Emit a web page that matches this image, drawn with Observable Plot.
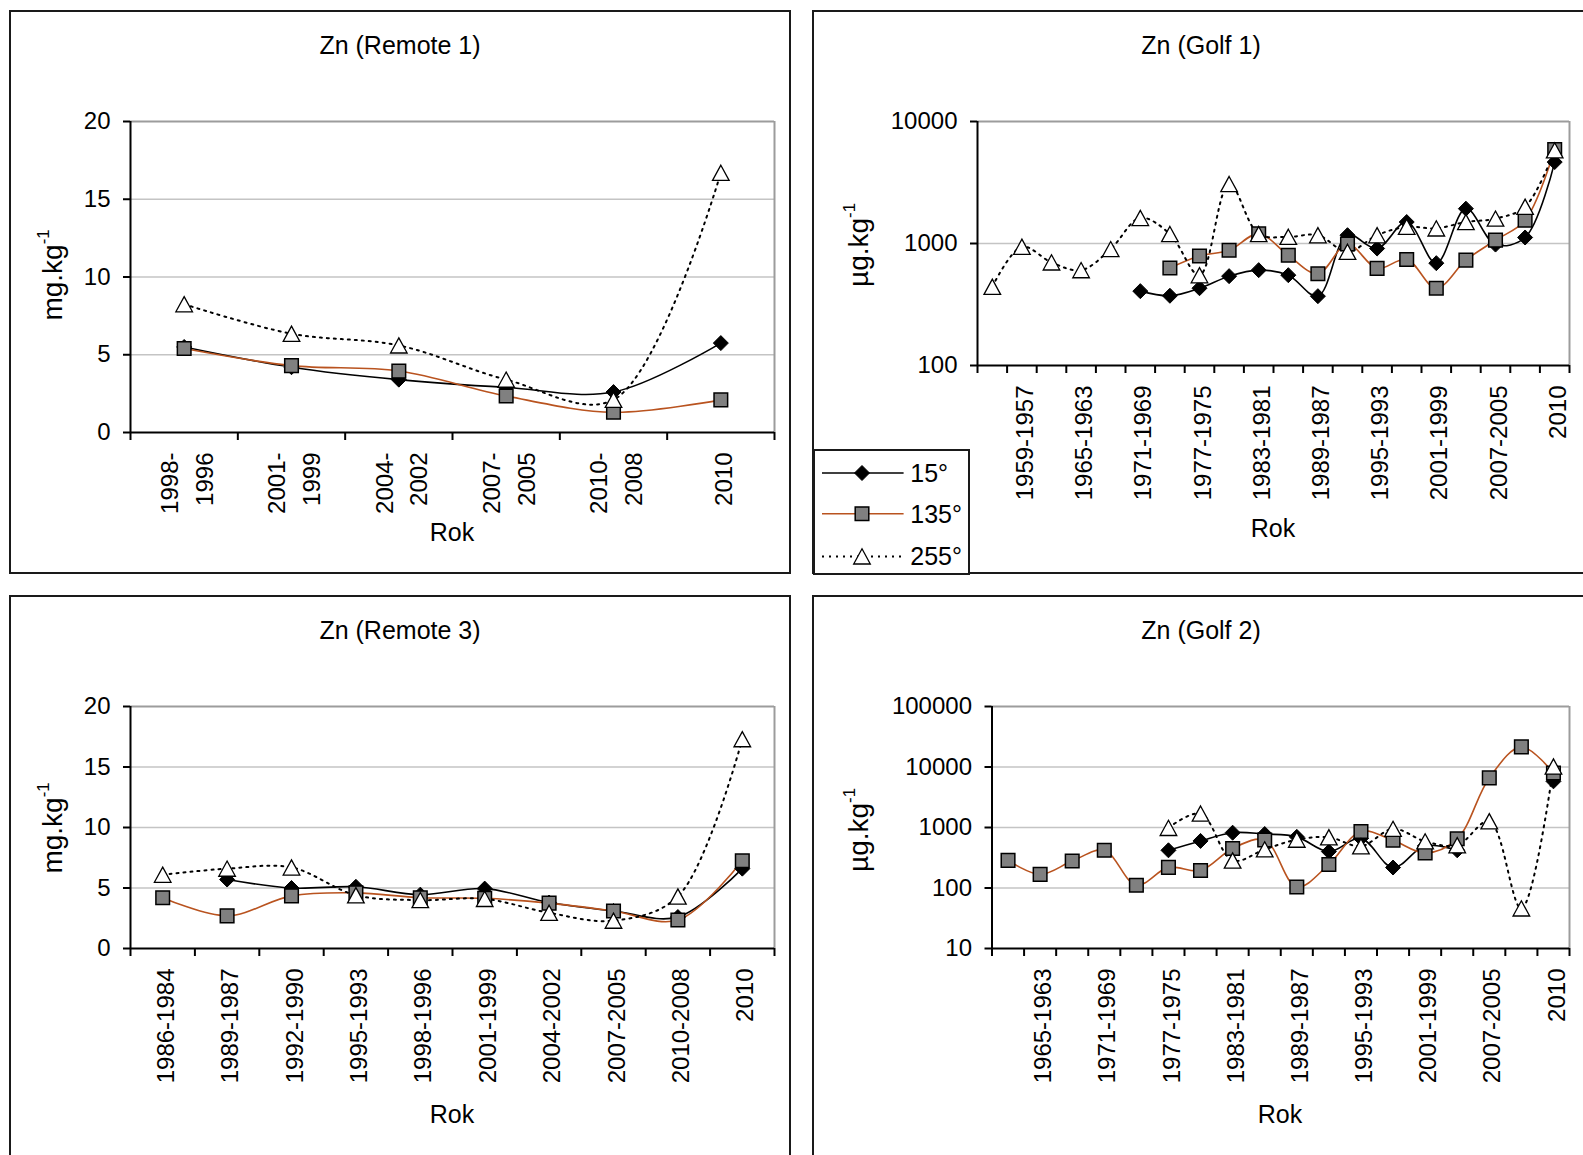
<!DOCTYPE html>
<html><head><meta charset="utf-8">
<script src="https://cdn.jsdelivr.net/npm/d3@7"></script>
<script src="https://cdn.jsdelivr.net/npm/@observablehq/plot@0.6"></script>
<style>
body{margin:0;background:#fff;width:1583px;height:1155px;overflow:hidden;position:relative;font-family:"Liberation Sans",Arial,sans-serif;color:#000}
.panel{position:absolute}
.frame{position:absolute;left:0;top:0;box-sizing:border-box;border:2px solid #1a1a1a}
.panel svg.plot{position:absolute;left:0;top:0;overflow:visible}
.t{position:absolute;transform:translate(-50%,-50%);white-space:nowrap;font-size:25px;line-height:1}
.yl{position:absolute;transform:translate(-50%,-50%) rotate(-90deg);white-space:nowrap;font-size:28px;line-height:1}
.yl sup{font-size:60%;vertical-align:0.8em;line-height:0}
.legend{position:absolute;box-sizing:border-box;border:2px solid #1a1a1a;background:#fff}
</style></head><body>
<script>
// ---------- DATA ----------
const seriesNames = ["15°", "135°", "255°"];

const remote1Cats = ["1998-1996", "2001-1999", "2004-2002", "2007-2005", "2010-2008", "2010"];
const remote1_15  = [5.5, 4.2, 3.4, 2.9, 2.6, 5.75];
const remote1_135 = [5.4, 4.3, 3.95, 2.35, 1.3, 2.1];
const remote1_255 = [8.25, 6.35, 5.6, 3.4, 2.1, 16.7];

const golf1Cats = ["1956-1954", "1959-1957", "1962-1960", "1965-1963", "1968-1966", "1971-1969", "1974-1972",
  "1977-1975", "1980-1978", "1983-1981", "1986-1984", "1989-1987", "1992-1990", "1995-1993", "1998-1996",
  "2001-1999", "2004-2002", "2007-2005", "2010-2008", "2010"];
const golf1_15  = [null, null, null, null, null, 407, 373, 430, 540, 605, 550, 370, 1170, 910, 1500, 690, 1930, 980, 1120, 4650];
const golf1_135 = [null, null, null, null, null, null, 630, 790, 880, 1200, 800, 565, 990, 625, 740, 430, 730, 1065, 1550, 5900];
const golf1_255 = [442, 940, 700, 605, 900, 1620, 1195, 550, 3070, 1195, 1135, 1170, 855, 1170, 1370, 1330, 1500, 1600, 2000, 5800];

const remote3Cats = ["1986-1984", "1989-1987", "1992-1990", "1995-1993", "1998-1996", "2001-1999", "2004-2002", "2007-2005", "2010-2008", "2010"];
const remote3_15  = [null, 5.7, 5.0, 5.1, 4.45, 4.95, 3.8, 3.1, 2.6, 6.6];
const remote3_135 = [4.2, 2.7, 4.35, 4.6, 4.2, 4.15, 3.75, 3.1, 2.35, 7.25];
const remote3_255 = [6.1, 6.6, 6.7, 4.4, 4.0, 4.1, 2.95, 2.3, 4.3, 17.3];

const golf2Cats = ["1962-1960", "1965-1963", "1968-1966", "1971-1969", "1974-1972", "1977-1975", "1980-1978",
  "1983-1981", "1986-1984", "1989-1987", "1992-1990", "1995-1993", "1998-1996", "2001-1999", "2004-2002",
  "2007-2005", "2010-2008", "2010"];
const golf2_15  = [null, null, null, null, null, 420, 600, 820, 780, 700, 400, 660, 218, 500, 420, null, null, 5800];
const golf2_135 = [286, 168, 279, 420, 111, 219, 195, 450, 620, 104, 245, 860, 615, 380, 650, 6600, 21500, 7950];
const golf2_255 = [null, null, null, null, null, 985, 1700, 285, 435, 630, 690, 490, 950, 590, 510, 1270, 46, 10200];

const linearTicks = [0, 5, 10, 15, 20];
const golf1Ticks = [100, 1000, 10000];
const golf2Ticks = [10, 100, 1000, 10000, 100000];

// ---------- STYLE ----------
const brown = "#b9531f";
const symDiamond = {draw(c){c.moveTo(0,-7.5);c.lineTo(7.5,0);c.lineTo(0,7.5);c.lineTo(-7.5,0);c.closePath();}};
const symSquare = {draw(c){c.moveTo(-6.8,-6.8);c.lineTo(6.8,-6.8);c.lineTo(6.8,6.8);c.lineTo(-6.8,6.8);c.closePath();}};
const symTriangle = {draw(c){c.moveTo(0,-7.6);c.lineTo(8.3,7.6);c.lineTo(-8.3,7.6);c.closePath();}};

function makePanel(cfg) {
  const panel = document.createElement("div");
  panel.className = "panel";
  Object.assign(panel.style, {left: cfg.left + "px", top: cfg.top + "px", width: cfg.width + "px", height: cfg.height + "px"});
  const frame = document.createElement("div");
  frame.className = "frame";
  Object.assign(frame.style, {width: cfg.width + "px", height: cfg.height + "px"});
  panel.appendChild(frame);

  const cats = cfg.cats;
  const n = cats.length;
  const rows = vals => vals.map((v, i) => ({i: i + 0.5, v, cat: cats[i]}));
  const [d15, d135, d255] = cfg.series.map(rows);
  const fmtY = d => String(d);
  const labelTicks = d3.range(n).filter(cfg.labelFilter).map(i => i + 0.5);
  const fmtX = t => {
    const c = cats[Math.floor(t)];
    return cfg.wrap ? c.replace("-", "-\n") : c;
  };

  const svg = Plot.plot({
    width: cfg.width,
    height: cfg.height,
    marginLeft: cfg.m[3], marginRight: cfg.m[1], marginTop: cfg.m[0], marginBottom: cfg.m[2],
    x: {type: "linear", domain: [0, n], label: null},
    y: {type: cfg.yType, domain: cfg.yDomain, label: null},
    style: {fontFamily: '"Liberation Sans", Arial, sans-serif', fontSize: "24px", color: "#000", background: "transparent", overflow: "visible"},
    marks: [
      Plot.ruleY(cfg.grid, {stroke: "#c4c4c4", strokeWidth: 1.6}),
      Plot.ruleY([cfg.yDomain[1]], {stroke: "#9c9c9c", strokeWidth: 2}),
      Plot.ruleX([n], {stroke: "#9c9c9c", strokeWidth: 2}),
      Plot.line(d15, {x: "i", y: "v", stroke: "#000", strokeWidth: 1.6, curve: "catmull-rom"}),
      Plot.line(d135, {x: "i", y: "v", stroke: brown, strokeWidth: 1.6, curve: "catmull-rom"}),
      Plot.line(d255, {x: "i", y: "v", stroke: "#000", strokeWidth: 2, strokeDasharray: "2,5", curve: "catmull-rom"}),
      Plot.dot(d15, {x: "i", y: "v", symbol: symDiamond, fill: "#000", stroke: "#000", strokeWidth: 1}),
      Plot.dot(d135, {x: "i", y: "v", symbol: symSquare, fill: "#808080", stroke: "#000", strokeWidth: 1.5}),
      Plot.dot(d255, {x: "i", y: "v", symbol: symTriangle, fill: "#fff", stroke: "#000", strokeWidth: 1.3}),
      Plot.ruleX([0], {stroke: "#000", strokeWidth: 2}),
      Plot.ruleY([cfg.yDomain[0]], {stroke: "#000", strokeWidth: 2}),
      Plot.axisY({ticks: cfg.yTicks, tickSize: 7, tickPadding: 13, tickFormat: fmtY, strokeWidth: 2, fontSize: 24, label: null}),
      Plot.axisX({ticks: d3.range(n + 1), tickSize: 8, tickFormat: () => null, strokeWidth: 2, label: null}),
      Plot.axisX({ticks: labelTicks, tickSize: 0, tickPadding: 20, tickRotate: -90, tickFormat: fmtX, fontSize: 24, lineHeight: 1.45, label: null})
    ]
  });
  svg.classList.add("plot");
  panel.appendChild(svg);

  const title = document.createElement("div");
  title.className = "t";
  title.textContent = cfg.title;
  Object.assign(title.style, {left: cfg.titlePos[0] + "px", top: cfg.titlePos[1] + "px"});
  panel.appendChild(title);

  const rok = document.createElement("div");
  rok.className = "t";
  rok.textContent = "Rok";
  Object.assign(rok.style, {left: cfg.rokPos[0] + "px", top: cfg.rokPos[1] + "px"});
  panel.appendChild(rok);

  const yl = document.createElement("div");
  yl.className = "yl";
  yl.innerHTML = cfg.ylab + "<sup>-1</sup>";
  Object.assign(yl.style, {left: cfg.ylabPos[0] + "px", top: cfg.ylabPos[1] + "px"});
  panel.appendChild(yl);

  document.body.appendChild(panel);
  return panel;
}

makePanel({
  left: 9, top: 10, width: 782, height: 564, m: [111, 17, 142, 121],
  cats: remote1Cats, series: [remote1_15, remote1_135, remote1_255],
  yType: "linear", yDomain: [0, 20], yTicks: linearTicks, grid: [5, 10, 15],
  labelFilter: () => true, wrap: true,
  title: "Zn (Remote 1)", titlePos: [391, 35.4], rokPos: [443, 522], ylab: "mg.kg", ylabPos: [44, 265]
});

const p2 = makePanel({
  left: 812, top: 10, width: 780, height: 564, m: [111, 23, 209, 165],
  cats: golf1Cats, series: [golf1_15, golf1_135, golf1_255],
  yType: "log", yDomain: [100, 10000], yTicks: golf1Ticks, grid: [1000],
  labelFilter: i => i % 2 === 1, wrap: false,
  title: "Zn (Golf 1)", titlePos: [389, 35.4], rokPos: [461, 518], ylab: "µg.kg", ylabPos: [47, 235]
});

makePanel({
  left: 9, top: 595, width: 782, height: 570, m: [111, 17, 217, 121],
  cats: remote3Cats, series: [remote3_15, remote3_135, remote3_255],
  yType: "linear", yDomain: [0, 20], yTicks: linearTicks, grid: [5, 10, 15],
  labelFilter: () => true, wrap: false,
  title: "Zn (Remote 3)", titlePos: [391, 35], rokPos: [443, 518.6], ylab: "mg.kg", ylabPos: [44, 233]
});

makePanel({
  left: 812, top: 595, width: 780, height: 570, m: [111, 23, 217, 179.5],
  cats: golf2Cats, series: [golf2_15, golf2_135, golf2_255],
  yType: "log", yDomain: [10, 100000], yTicks: golf2Ticks, grid: [100, 1000, 10000],
  labelFilter: i => i % 2 === 1, wrap: false,
  title: "Zn (Golf 2)", titlePos: [389, 35], rokPos: [468, 518.6], ylab: "µg.kg", ylabPos: [47, 235]
});

// ---------- LEGEND (in Golf 1 panel) ----------
const leg = document.createElement("div");
leg.className = "legend";
Object.assign(leg.style, {left: "0.7px", top: "439.3px", width: "157px", height: "126px"});
const lsvg = d3.create("svg").attr("width", 157).attr("height", 126).style("position", "absolute").style("left", "-2px").style("top", "-2px")
  .style("font-family", '"Liberation Sans", Arial, sans-serif').style("font-size", "25px");
const legRows = [
  {name: seriesNames[0], y: 24, stroke: "#000", dash: null, sw: 1.6, sym: symDiamond, fill: "#000", sstroke: "#000", ssw: 1},
  {name: seriesNames[1], y: 64.7, stroke: brown, dash: null, sw: 1.6, sym: symSquare, fill: "#808080", sstroke: "#000", ssw: 1.5},
  {name: seriesNames[2], y: 107.4, stroke: "#000", dash: "2,5", sw: 2, sym: symTriangle, fill: "#fff", sstroke: "#000", ssw: 1.3}
];
for (const r of legRows) {
  lsvg.append("line").attr("x1", 9).attr("x2", 90.6).attr("y1", r.y).attr("y2", r.y)
    .attr("stroke", r.stroke).attr("stroke-width", r.sw).attr("stroke-dasharray", r.dash);
  lsvg.append("path").attr("d", d3.symbol(r.sym)()).attr("transform", `translate(49,${r.y})`)
    .attr("fill", r.fill).attr("stroke", r.sstroke).attr("stroke-width", r.ssw);
  lsvg.append("text").attr("x", 97.3).attr("y", r.y).attr("dy", "0.36em").attr("fill", "#000").text(r.name);
}
leg.appendChild(lsvg.node());
p2.appendChild(leg);
</script>
</body></html>
